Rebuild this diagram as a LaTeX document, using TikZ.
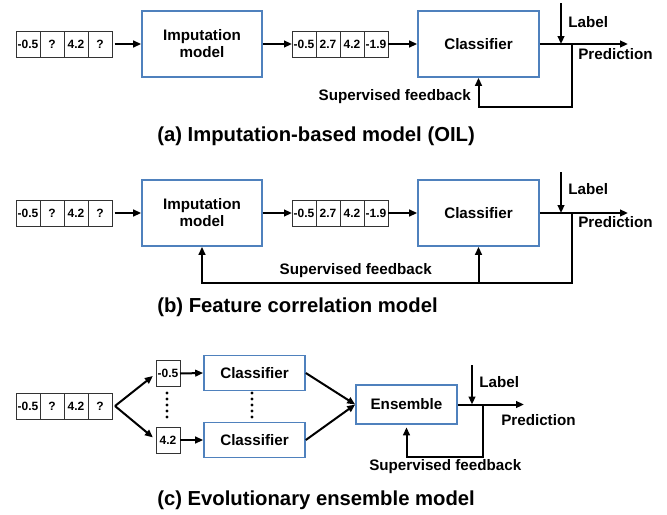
\documentclass[tikz,border=0pt]{standalone}
\usepackage{fontspec}
\setmainfont{Liberation Sans}
\usetikzlibrary{arrows.meta,positioning}
\definecolor{boxblue}{RGB}{79,129,189}

\tikzset{
  cell/.style={draw=black!80, line width=0.6pt, minimum width=18pt, minimum height=19.5pt,
    inner sep=0pt, outer sep=0pt, font=\fontsize{9}{10}\selectfont\bfseries},
  model/.style={draw=boxblue, line width=1.2pt, align=center, inner sep=0pt,
    font=\fontsize{11.4}{12.8}\selectfont\bfseries},
  flow/.style={line width=1.5pt, -{Triangle[length=6pt,width=5pt]}},
  txt/.style={font=\fontsize{11.4}{13}\selectfont\bfseries, inner sep=0pt},
  caption/.style={font=\fontsize{15.2}{18}\selectfont\bfseries, anchor=west, inner sep=0pt}
}

\begin{document}
\begin{tikzpicture}[x=0.75pt,y=-0.75pt]
\useasboundingbox (0,0) rectangle (667,514);

% (a) imputation-based model
\node[cell] (ain1) at (28,44) {-0.5};
\node[cell,right=0pt of ain1] (ain2) {?};
\node[cell,right=0pt of ain2] (ain3) {4.2};
\node[cell,right=0pt of ain3] (ain4) {?};
\node[model,minimum width=90pt,minimum height=49.5pt] (aimp) at (202,44) {Imputation\\model};
\node[cell] (aout1) at (304,44) {-0.5};
\node[cell,right=0pt of aout1] (aout2) {2.7};
\node[cell,right=0pt of aout2] (aout3) {4.2};
\node[cell,right=0pt of aout3] (aout4) {-1.9};
\node[model,minimum width=90.75pt,minimum height=49.5pt] (acls) at (478.5,44) {Classifier};

\coordinate (alab) at (561,3);
\coordinate (alabend) at (561,44);
\coordinate (apred) at (628,44);
\coordinate (afork) at (572,44);
\coordinate (afb) at (572,107);

\draw[flow,shorten <=2pt] (ain4.east) -- (aimp.west);
\draw[flow] (aimp.east) -- (aout1.west);
\draw[flow] (aout4.east) -- (acls.west);
\draw[flow] (acls.east) -- (apred);
\draw[flow] (alab) -- (alabend);
\draw[flow] (afork) -- (afb) -| (acls.south);

\node[txt,anchor=west] (alabtxt) at (568,22) {Label};
\node[txt,anchor=west] (apredtxt) at (578,54) {Prediction};
\node[txt,anchor=east] (afbtxt) at (471,97) {Supervised feedback};
\node[caption] (acap) at (157,136) {(a) Imputation-based model (OIL)};

% (b) feature correlation model
\node[cell] (bin1) at (28,213) {-0.5};
\node[cell,right=0pt of bin1] (bin2) {?};
\node[cell,right=0pt of bin2] (bin3) {4.2};
\node[cell,right=0pt of bin3] (bin4) {?};
\node[model,minimum width=90pt,minimum height=49.5pt] (bimp) at (202,213) {Imputation\\model};
\node[cell] (bout1) at (304,213) {-0.5};
\node[cell,right=0pt of bout1] (bout2) {2.7};
\node[cell,right=0pt of bout2] (bout3) {4.2};
\node[cell,right=0pt of bout3] (bout4) {-1.9};
\node[model,minimum width=90.75pt,minimum height=49.5pt] (bcls) at (478.5,213) {Classifier};

\coordinate (blab) at (561,172);
\coordinate (blabend) at (561,213);
\coordinate (bpred) at (628,213);
\coordinate (bfork) at (572,213);
\coordinate (bfb) at (572,283);

\draw[flow,shorten <=2pt] (bin4.east) -- (bimp.west);
\draw[flow] (bimp.east) -- (bout1.west);
\draw[flow] (bout4.east) -- (bcls.west);
\draw[flow] (bcls.east) -- (bpred);
\draw[flow] (blab) -- (blabend);
\draw[flow] (bfork) -- (bfb) -| (bimp.south);
\draw[flow] (bcls.south |- bfb) -- (bcls.south);

\node[txt,anchor=west] (blabtxt) at (568,189) {Label};
\node[txt,anchor=west] (bpredtxt) at (578,222) {Prediction};
\node[txt,anchor=east] (bfbtxt) at (432,271) {Supervised feedback};
\node[caption] (bcap) at (157,307) {(b) Feature correlation model};

% (c) evolutionary ensemble model
\node[cell] (cin1) at (28,406) {-0.5};
\node[cell,right=0pt of cin1] (cin2) {?};
\node[cell,right=0pt of cin2] (cin3) {4.2};
\node[cell,right=0pt of cin3] (cin4) {?};
\node[cell] (ctop) at (168,373.5) {-0.5};
\node[cell] (cbot) at (168,440) {4.2};
\node[model,minimum width=75.75pt,minimum height=26pt] (ccls1) at (254.5,373) {Classifier};
\node[model,minimum width=75.75pt,minimum height=26pt] (ccls2) at (254.5,440) {Classifier};
\node[model,minimum width=75.75pt,minimum height=29pt] (cens) at (406.5,404.5) {Ensemble};

\coordinate (cfork) at (115,406);
\coordinate (clab) at (472,365);
\coordinate (clabend) at (472,404.5);
\coordinate (cpred) at (524,404.5);
\coordinate (cjoin) at (483,404.5);
\coordinate (cfb) at (483,457);

\draw[flow,shorten >=3pt] (cfork) -- (ctop.west);
\draw[flow,shorten >=3pt] (cfork) -- (cbot.west);
\draw[flow] (ctop.east) -- (ccls1.west);
\draw[flow] (cbot.east) -- (ccls2.west);
\draw[flow] (ccls1.east) -- (cens.west);
\draw[flow] (ccls2.east) -- (cens.west);
\draw[flow] (cens.east) -- (cpred);
\draw[flow] (clab) -- (clabend);
\draw[flow,shorten >=2pt] (cjoin) -- (cfb) -| (cens.south);

% dots between the two branches
\foreach \y in {393,399,405,411,417} {
  \fill (167,\y) circle (1.3pt);
  \fill (252,\y) circle (1.3pt);
}

\node[txt,anchor=west] (clabtxt) at (479,382) {Label};
\node[txt,anchor=west] (cpredtxt) at (501,420) {Prediction};
\node[txt,anchor=west] (cfbtxt) at (369,467) {Supervised feedback};
\node[caption] (ccap) at (157,500) {(c) Evolutionary ensemble model};
\end{tikzpicture}
\end{document}
